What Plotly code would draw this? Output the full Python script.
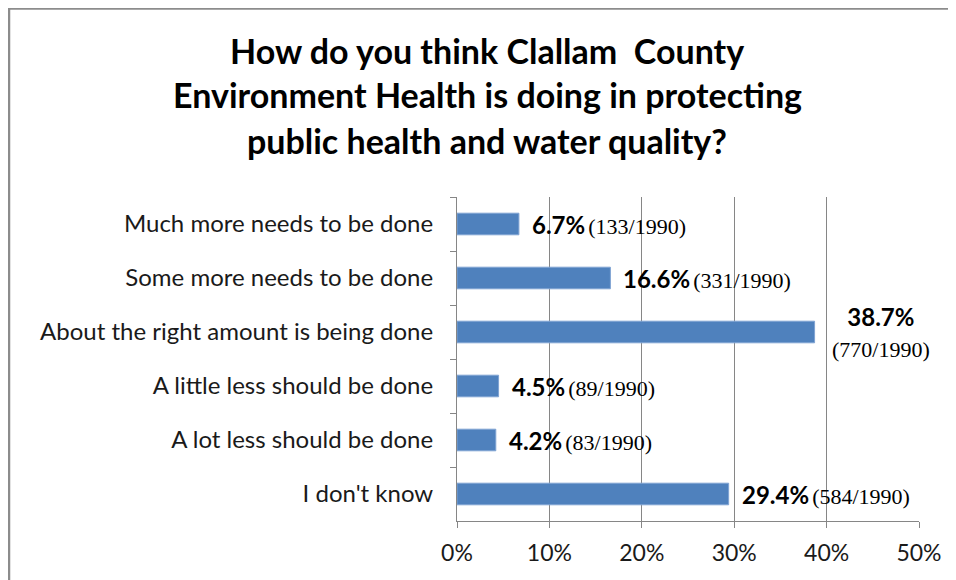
import plotly.graph_objects as go

categories = [
    "Much more needs to be done",
    "Some more needs to be done",
    "About the right amount is being done",
    "A little less should be done",
    "A lot less should be done",
    "I don't know",
]
percents = [6.7, 16.6, 38.7, 4.5, 4.2, 29.4]
counts = [133, 331, 770, 89, 83, 584]
total = 1990
title_lines = [
    "How do you think Clallam  County",
    "Environment Health is doing in protecting",
    "public health and water quality?",
]
x_ticks = [0, 10, 20, 30, 40, 50]

FONT = "Lato"
SERIF = "Liberation Serif"
GRID = "#868686"

# page body has an 8px margin; figure coordinates are page - 8
W, H = 948, 572
L, R, T, B = 449, 37, 189, 59
PW, PH = W - L - R, H - T - B


def px_x(xf):
    return (xf - L) / PW


def px_y(yf):
    return (H - B - yf) / PH


fig = go.Figure()
fig.add_trace(go.Bar(
    y=categories, x=percents, orientation="h",
    marker=dict(color="#4F81BD", line=dict(color="#7FA3D3", width=1)),
    width=0.4, hoverinfo="skip",
))

annotations = []
for cat, p, c in zip(categories, percents, counts):
    paren = "<span style='font-family:%s;font-size:22px'>(%d/%d)</span>" % (SERIF, c, total)
    if p > 35:
        txt = "<b>%.1f%%</b><br>%s" % (p, paren)
        annotations.append(dict(x=p, y=cat, xref="x", yref="y", text=txt, showarrow=False,
                                xanchor="center", xshift=66, align="center",
                                font=dict(family=FONT, size=24, color="#000")))
    else:
        txt = "<b>%.1f%%</b>&#8201;%s" % (p, paren)
        annotations.append(dict(x=p, y=cat, xref="x", yref="y", text=txt, showarrow=False,
                                xanchor="left", xshift=11, yshift=0,
                                font=dict(family=FONT, size=24, color="#000")))

for line, ypx in zip(title_lines, [50, 95, 140]):
    annotations.append(dict(x=px_x(487 - 8), xref="paper", y=px_y(ypx - 8),
                            yref="paper", text="<b>%s</b>" % line, showarrow=False,
                            xanchor="center", yanchor="middle",
                            font=dict(family=FONT, size=34, color="#000")))

fig.update_layout(
    width=W, height=H,
    margin=dict(l=L, r=R, t=T, b=B),
    paper_bgcolor="white", plot_bgcolor="white",
    showlegend=False,
    annotations=annotations,
    font=dict(family=FONT, size=24, color="#000"),
    xaxis=dict(range=[0, 50], tickvals=x_ticks, ticktext=["%d%%" % v for v in x_ticks],
               showgrid=True, gridcolor=GRID, gridwidth=1, zeroline=False,
               showline=True, linecolor=GRID, linewidth=1,
               ticks="outside", ticklen=6, tickcolor=GRID,
               tickfont=dict(family=FONT, size=23, color="#1a1a1a"),
               ticklabelstandoff=5, fixedrange=True),
    yaxis=dict(autorange="reversed", type="category", tickson="boundaries",
               showline=True, linecolor=GRID, linewidth=1,
               ticks="outside", ticklen=6, tickcolor=GRID, showgrid=False,
               tickfont=dict(family=FONT, size=24, color="#1a1a1a"), ticklabelstandoff=18,
               fixedrange=True),
    shapes=[
        dict(type="line", xref="paper", yref="paper",
             x0=px_x(0), x1=px_x(W + 5), y0=px_y(0.5), y1=px_y(0.5),
             line=dict(color="#8C8C8C", width=2.5)),
        dict(type="line", xref="paper", yref="paper",
             x0=px_x(1), x1=px_x(1), y0=px_y(0), y1=px_y(H + 5),
             line=dict(color="#8C8C8C", width=2.5)),
    ],
)
fig.write_html("out.html")
